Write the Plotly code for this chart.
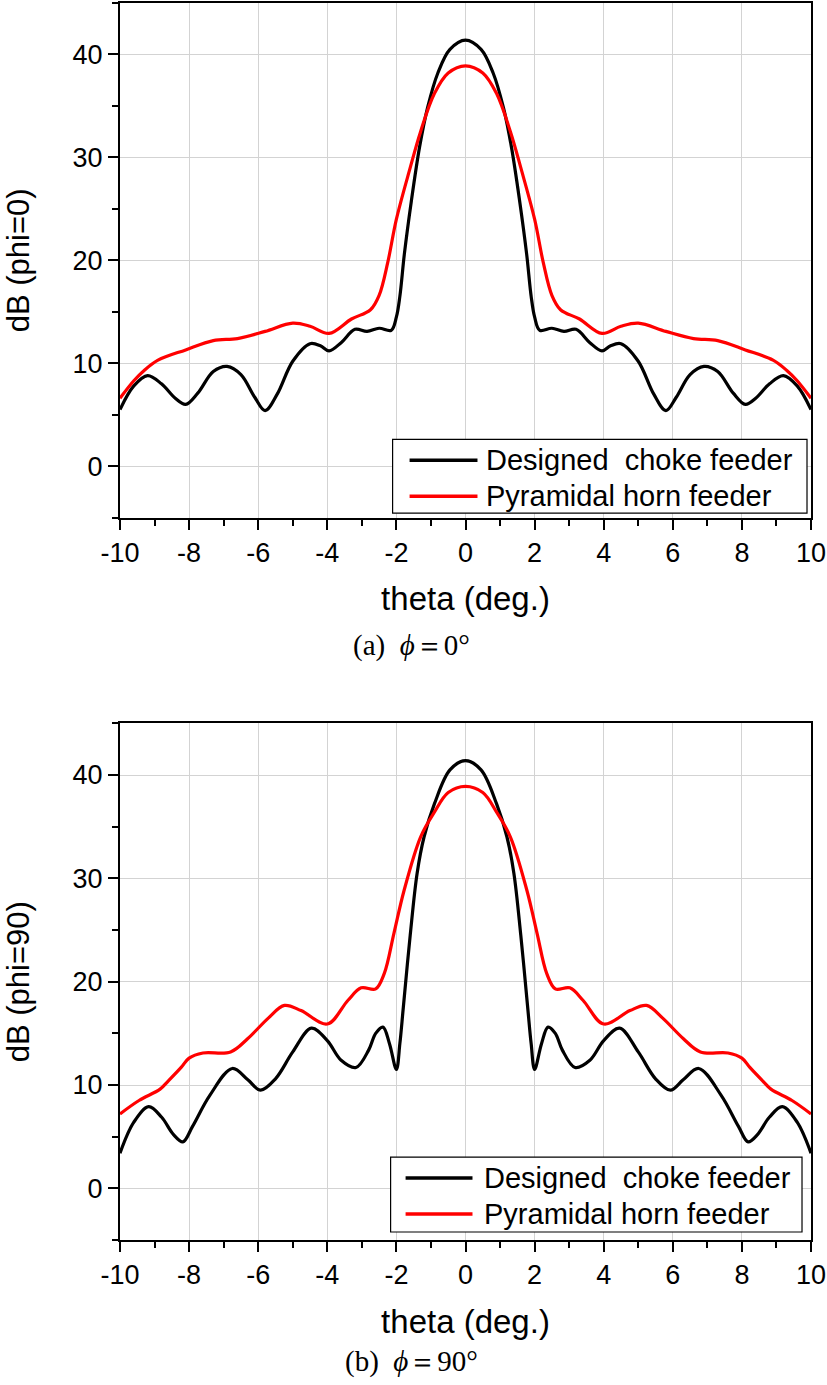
import plotly.graph_objects as go

# ---------------- data ----------------
# (a) phi = 0
theta_a_black = [-10, -9.6, -9.2, -8.8, -8.4, -8.1, -7.75, -7.3, -6.9, -6.5, -6.1, -5.8, -5.45, -5.0,
                 -4.5, -4.2, -3.95, -3.6, -3.2, -2.85, -2.5, -2.15, -2.0, -1.9, -1.77, -1.57, -1.33,
                 -1.1, -0.8, -0.45, 0,
                 0.45, 0.8, 1.1, 1.33, 1.57, 1.77, 1.9, 2.0, 2.15, 2.5, 2.85, 3.2, 3.6, 3.95,
                 4.2, 4.5, 5.0, 5.45, 5.8, 6.1, 6.5, 6.9, 7.3, 7.75, 8.1, 8.4, 8.8, 9.2, 9.6, 10]
db_a_black = [5.5, 7.8, 8.8, 8.0, 6.6, 6.0, 7.1, 9.2, 9.7, 8.9, 6.7, 5.4, 7.0, 10.2,
              11.9, 11.7, 11.2, 12.0, 13.3, 13.1, 13.4, 13.2, 14.5, 16.5, 20.6, 25.7, 31.0,
              34.8, 38.2, 40.5, 41.4,
              40.5, 38.2, 34.8, 31.0, 25.7, 20.6, 16.5, 14.5, 13.2, 13.4, 13.1, 13.3, 12.0, 11.2,
              11.7, 11.9, 10.2, 7.0, 5.4, 6.7, 8.9, 9.7, 9.2, 7.1, 6.0, 6.6, 8.0, 8.8, 7.8, 5.5]

theta_a_red = [-10, -9.6, -9.3, -8.9, -8.1, -7.3, -6.6, -5.8, -5.0, -4.5, -3.95, -3.3, -2.75, -2.5,
               -2.25, -2.0, -1.6, -1.3, -0.9, -0.5, 0,
               0.5, 0.9, 1.3, 1.6, 2.0, 2.25, 2.5, 2.75, 3.3, 3.95, 4.5, 5.0, 5.8, 6.6, 7.3, 8.1,
               8.9, 9.3, 9.6, 10]
db_a_red = [6.6, 8.3, 9.3, 10.3, 11.3, 12.2, 12.4, 13.1, 13.9, 13.6, 12.9, 14.3, 15.2, 16.6,
            19.8, 24.0, 29.0, 32.5, 36.2, 38.2, 38.9,
            38.2, 36.2, 32.5, 29.0, 24.0, 19.8, 16.6, 15.2, 14.3, 12.9, 13.6, 13.9, 13.1, 12.4, 12.2, 11.3,
            10.3, 9.3, 8.3, 6.6]

# (b) phi = 90
theta_b_black = [-10, -9.6, -9.17, -8.8, -8.45, -8.18, -7.9, -7.4, -6.75, -6.3, -5.93, -5.5, -5.0,
                 -4.46, -4.0, -3.6, -3.17, -2.8, -2.6, -2.39, -2.2, -2.0, -1.9, -1.8, -1.6, -1.4,
                 -1.2, -0.9, -0.45, 0,
                 0.45, 0.9, 1.2, 1.4, 1.6, 1.8, 1.9, 2.0, 2.2, 2.39, 2.6, 2.8, 3.17, 3.6, 4.0, 4.46,
                 5.0, 5.5, 5.93, 6.3, 6.75, 7.4, 7.9, 8.18, 8.45, 8.8, 9.17, 9.6, 10]
db_b_black = [3.4, 6.4, 7.9, 6.9, 5.2, 4.5, 6.0, 9.0, 11.6, 10.5, 9.5, 10.6, 13.2,
              15.5, 14.3, 12.4, 11.7, 13.4, 15.0, 15.6, 14.0, 11.5, 14.0, 17.5, 24.5, 30.5,
              34.0, 37.2, 40.5, 41.4,
              40.5, 37.2, 34.0, 30.5, 24.5, 17.5, 14.0, 11.5, 14.0, 15.6, 15.0, 13.4, 11.7, 12.4, 14.3, 15.5,
              13.2, 10.6, 9.5, 10.5, 11.6, 9.0, 6.0, 4.5, 5.2, 6.9, 7.9, 6.4, 3.4]

theta_b_red = [-10, -9.45, -8.84, -8.6, -8.23, -8.0, -7.6, -6.8, -6.3, -5.7, -5.24, -4.76, -4.0,
               -3.4, -3.02, -2.6, -2.35, -2.07, -1.78, -1.3, -0.9, -0.5, 0,
               0.5, 0.9, 1.3, 1.78, 2.07, 2.35, 2.6, 3.02, 3.4, 4.0, 4.76, 5.24, 5.7, 6.3, 6.8,
               7.6, 8.0, 8.23, 8.6, 8.84, 9.45, 10]
db_b_red = [7.2, 8.5, 9.6, 10.4, 11.7, 12.6, 13.1, 13.2, 14.5, 16.5, 17.7, 17.2, 15.9,
            18.2, 19.4, 19.3, 20.8, 24.7, 28.8, 34.0, 36.4, 38.3, 38.9,
            38.3, 36.4, 34.0, 28.8, 24.7, 20.8, 19.3, 19.4, 18.2, 15.9, 17.2, 17.7, 16.5, 14.5, 13.2,
            13.1, 12.6, 11.7, 10.4, 9.6, 8.5, 7.2]

names = ["Designed\u00a0 choke feeder", "Pyramidal horn feeder"]
colors = ["#000000", "#ff0000"]
x_ticks = [-10, -8, -6, -4, -2, 0, 2, 4, 6, 8, 10]
x_ticktext = ["-10", "-8", "-6", "-4", "-2", "0", "2", "4", "6", "8", "10"]
y_ticks = [0, 10, 20, 30, 40]
y_titles = ["dB (phi=0)", "dB (phi=90)"]
x_title = "theta (deg.)"
captions = ["(a)  <i>ϕ</i>\uff1d0°", "(b)  <i>ϕ</i>\uff1d90°"]

# ---------------- layout geometry ----------------
W, H = 827, 1385
ML, MR, MT, MB = 120, 15, 1, 145
PW, PH = W - ML - MR, H - MT - MB

def px_x(px):
    return (px - ML) / PW

def px_y(py):
    return (H - MB - py) / PH

SANS = "Liberation Sans, Arial, sans-serif"
SERIF = "Liberation Serif, Times New Roman, serif"

fig = go.Figure()

def add(xv, yv, color, name, xa, ya):
    fig.add_trace(go.Scatter(
        x=xv, y=yv, mode="lines", name=name,
        line=dict(color=color, width=3.2, shape="spline", smoothing=1.0),
        xaxis=xa, yaxis=ya, showlegend=False))

add(theta_a_black, db_a_black, colors[0], names[0], "x", "y")
add(theta_a_red, db_a_red, colors[1], names[1], "x", "y")
add(theta_b_black, db_b_black, colors[0], names[0], "x2", "y2")
add(theta_b_red, db_b_red, colors[1], names[1], "x2", "y2")

def xaxis(anchor):
    return dict(
        anchor=anchor, domain=[0, 1], range=[-10, 10],
        tickmode="array", tickvals=x_ticks, ticktext=x_ticktext,
        ticklabeloverflow="allow",
        ticks="outside", ticklen=10, tickwidth=1.5, tickcolor="black",
        showline=True, linecolor="black", linewidth=2, mirror=True,
        showgrid=True, gridcolor="#d3d3d3", gridwidth=1, zeroline=False,
        minor=dict(dtick=1, tick0=0, ticks="outside", ticklen=6, tickwidth=1.5,
                   tickcolor="black", showgrid=False),
        tickfont=dict(family=SANS, size=27, color="black"),
        title=dict(text=x_title, font=dict(family=SANS, size=33, color="black"), standoff=20),
    )

def yaxis(anchor, domain, title):
    return dict(
        anchor=anchor, domain=domain, range=[-5, 45], tickvals=y_ticks,
        ticklabeloverflow="allow",
        ticks="outside", ticklen=10, tickwidth=1.5, tickcolor="black",
        showline=True, linecolor="black", linewidth=2, mirror=True,
        showgrid=True, gridcolor="#d3d3d3", gridwidth=1, zeroline=False,
        minor=dict(dtick=5, tick0=0, ticks="outside", ticklen=6, tickwidth=1.5,
                   tickcolor="black", showgrid=False),
        tickfont=dict(family=SANS, size=27, color="black"),
        title=dict(text=title, font=dict(family=SANS, size=31, color="black"), standoff=34),
    )

# manual legends (box, line samples, labels) to mimic the original style
shapes = []
annotations = []
legend_boxes = [
    # box x0, y0, x1, y1, row1 y, row2 y, sample x0, sample x1, text x
    (393, 438, 808, 512, 459, 495, 410, 478, 485),
    (391, 1157, 803, 1232, 1178, 1214, 406, 473, 483),
]
for (bx0, by0, bx1, by1, r1, r2, sx0, sx1, tx) in legend_boxes:
    shapes.append(dict(type="rect", xref="paper", yref="paper",
                       x0=px_x(bx0), x1=px_x(bx1), y0=px_y(by1), y1=px_y(by0),
                       line=dict(color="black", width=1.2), fillcolor="white", layer="above"))
    for ry, name, col in zip((r1, r2), names, colors):
        shapes.append(dict(type="line", xref="paper", yref="paper",
                           x0=px_x(sx0), x1=px_x(sx1), y0=px_y(ry), y1=px_y(ry),
                           line=dict(color=col, width=3.5), layer="above"))
        annotations.append(dict(text=name, xref="paper", yref="paper",
                                x=px_x(tx), y=px_y(ry), xanchor="left", yanchor="middle",
                                showarrow=False,
                                font=dict(family=SANS, size=29, color="black")))

for cap, cy in zip(captions, (645, 1362)):
    annotations.append(dict(text=cap, xref="paper", yref="paper", x=px_x(412), y=px_y(cy),
                            xanchor="center", yanchor="middle", showarrow=False,
                            font=dict(family=SERIF, size=29, color="black")))

fig.update_layout(
    width=W, height=H,
    margin=dict(l=ML, r=MR, t=MT, b=MB),
    paper_bgcolor="white", plot_bgcolor="white",
    xaxis=xaxis("y"),
    yaxis=yaxis("x", [px_y(516.5), 1.0], y_titles[0]),
    xaxis2=xaxis("y2"),
    yaxis2=yaxis("x2", [0.0, px_y(722.5)], y_titles[1]),
    shapes=shapes,
    annotations=annotations,
)

fig.write_html("out.html", config={"displayModeBar": False},
               post_script="document.body.style.margin='0px';")
